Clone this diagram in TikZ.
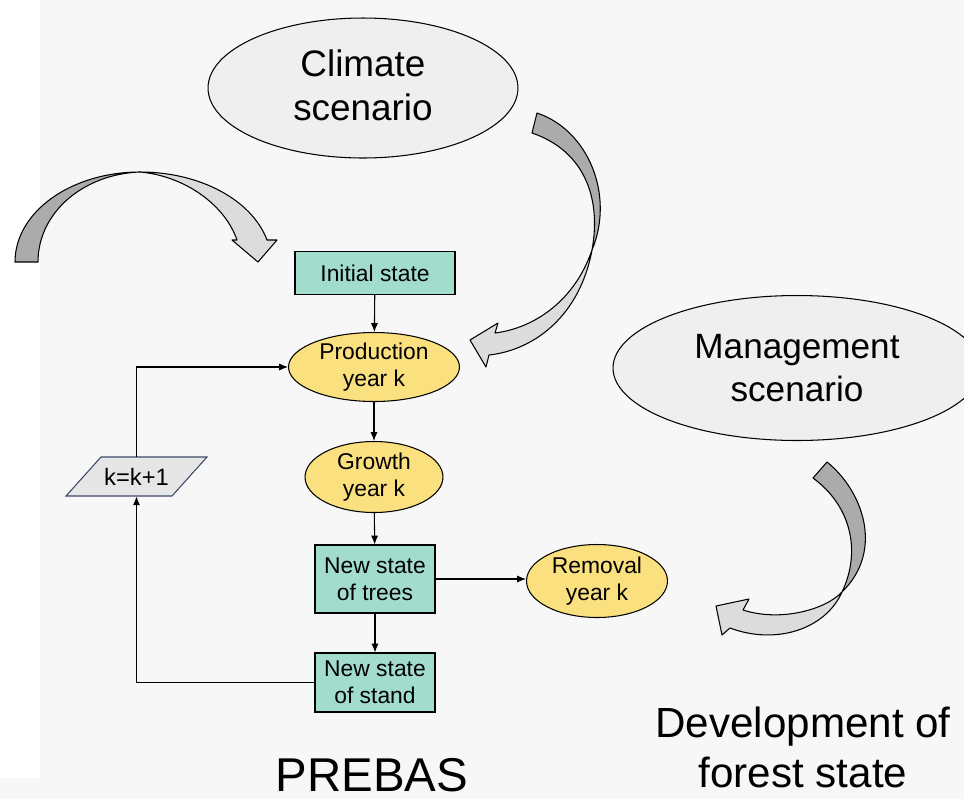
\documentclass[tikz,border=0pt]{standalone}
\usepackage{fontspec}
\setmainfont{Liberation Sans}
\usetikzlibrary{shapes.geometric,arrows.meta}
\definecolor{bgGray}{HTML}{F7F7F7}
\definecolor{stateTeal}{HTML}{A2DCCD}
\definecolor{stepYellow}{HTML}{FBE07F}
\definecolor{scenGray}{HTML}{EFEFEF}
\definecolor{arrowDark}{HTML}{ABABAB}
\definecolor{arrowLight}{HTML}{DCDCDC}
\definecolor{incGray}{HTML}{E6E6E6}
\definecolor{incLine}{HTML}{3B4A66}
\tikzset{
  statebox/.style={draw, line width=0.6pt, fill=stateTeal, align=center, inner sep=0pt,
    font=\fontsize{13}{15.5}\selectfont},
  stepell/.style={draw, line width=0.6pt, ellipse, fill=stepYellow, align=center, inner sep=0pt,
    font=\fontsize{13}{15.5}\selectfont},
  scenell/.style={draw, line width=0.6pt, ellipse, fill=scenGray, align=center, inner sep=0pt},
  flow/.style={line width=0.6pt, -{Latex[length=5pt,width=4pt]}},
  bigarrow/.style={draw, line width=0.6pt, line join=round}
}
\begin{document}
\begin{tikzpicture}[x=0.02cm, y=-0.02cm]
    \useasboundingbox (0, 0) rectangle (964, 799);
    \fill[bgGray] (0, 0) rectangle (964, 799);
    \fill[white] (0, 0) rectangle (40, 778);

    % scenarios
    \node[scenell, minimum width=6.2cm, minimum height=2.8cm] (climate) at (363, 88) {};
    \node[align=center, font=\fontsize{21}{25}\selectfont] (climatetxt) at (363, 85) {Climate\\scenario};
    \node[scenell, minimum width=7.36cm, minimum height=2.9cm,
      font=\fontsize{20}{24.5}\selectfont] (mgmt) at (797, 368) {Management\\scenario};

    % model steps
    \node[statebox, minimum width=3.2cm, minimum height=0.86cm] (init) at (375, 273) {Initial state};
    \node[stepell, minimum width=3.42cm, minimum height=1.38cm] (prod) at (374, 367) {Production\\year k};
    \node[stepell, minimum width=2.76cm, minimum height=1.42cm] (grow) at (374, 477) {Growth\\year k};
    \node[statebox, minimum width=2.4cm, minimum height=1.36cm] (trees) at (375, 579) {New state\\of trees};
    \node[stepell, minimum width=2.82cm, minimum height=1.46cm] (rem) at (597, 581) {Removal\\year k};
    \node[statebox, minimum width=2.4cm, minimum height=1.18cm] (stand) at (375, 682.5) {New state\\of stand};

    % k=k+1
    \filldraw[fill=incGray, draw=incLine, line width=0.6pt] (66, 496) -- (101, 457) -- (207, 457) -- (172, 496) -- cycle;
    \node[minimum width=2.1cm, minimum height=0.78cm, inner sep=0pt,
      font=\fontsize{13.5}{16}\selectfont] (inc) at (136.5, 476.5) {k=k+1};

    % connectors
    \draw[flow] (init) -- (prod);
    \draw[flow] (prod) -- (grow);
    \draw[flow] (grow) -- (trees);
    \draw[flow] (trees) -- (stand);
    \draw[flow] (trees.east) -- (trees.east -| rem.west);
    \draw[flow] (stand.west) -| (inc.south);
    \draw[flow] (inc.north) |- (prod.west);

    % curved block arrows
    \filldraw[bigarrow, fill=arrowDark] (15, 262) .. controls (15, 212) and (71, 172) .. (140, 172)
      .. controls (84, 174) and (38, 212) .. (38, 262) -- cycle;
    \filldraw[bigarrow, fill=arrowLight] (140, 172) .. controls (200, 172) and (252, 200) .. (267, 240)
      -- (277, 240) -- (258, 262) -- (232, 240) -- (237, 240)
      .. controls (225, 205) and (185, 176) .. (140, 172) -- cycle;

    \filldraw[bigarrow, fill=arrowDark] (537, 113) .. controls (588, 130) and (615, 195) .. (592, 250)
      .. controls (602, 195) and (582, 150) .. (532, 133) -- cycle;
    \filldraw[bigarrow, fill=arrowLight] (592, 250) .. controls (580, 315) and (535, 350) .. (489, 355)
      -- (486, 367) -- (470, 340) -- (498, 323) -- (495, 333)
      .. controls (535, 328) and (575, 300) .. (592, 250) -- cycle;

    \filldraw[bigarrow, fill=arrowDark] (827, 462) .. controls (862, 490) and (885, 550) .. (842, 592)
      .. controls (862, 550) and (850, 505) .. (813, 478) -- cycle;
    \filldraw[bigarrow, fill=arrowLight] (842, 592) .. controls (825, 630) and (775, 645) .. (730, 628)
      -- (722, 635) -- (716, 606) -- (749, 599) -- (743, 610)
      .. controls (780, 622) and (825, 610) .. (842, 592) -- cycle;

    % captions
    \node[font=\fontsize{27}{32}\selectfont] (prebas) at (372, 775) {PREBAS};
    \node[align=center, font=\fontsize{24}{28.5}\selectfont] (devel) at (803, 747) {Development of\\forest state};
\end{tikzpicture}
\end{document}
